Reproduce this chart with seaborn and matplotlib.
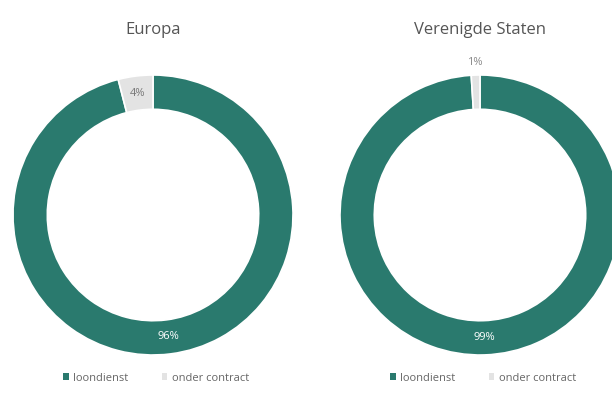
import numpy as np
import matplotlib.pyplot as plt
import seaborn as sns
from matplotlib.patches import Patch

sns.set_theme(style="white")
plt.rcParams['font.family'] = ['Open Sans', 'DejaVu Sans']

regions = ["Europa", "Verenigde Staten"]
categories = ["loondienst", "onder contract"]
europa = [96, 4]
vs = [99, 1]
colors = ["#2a7a6e", "#e3e3e3"]

W, H = 612, 411
fig = plt.figure(figsize=(W / 100, H / 100), dpi=100)

# pixel boxes for each donut: (left, top, size)
boxes = [(13, 75, 280), (340, 75, 280)]
centers_x = [153, 480]

for (left, top, size), name, vals, cx in zip(boxes, regions, [europa, vs], centers_x):
    ax = fig.add_axes([left / W, (H - top - size) / H, size / W, size / H])
    wedges, _ = ax.pie(vals, colors=colors, startangle=90, counterclock=False,
                       radius=1, wedgeprops=dict(width=0.245, edgecolor="white", linewidth=1.2))
    ax.set_xlim(-1, 1)
    ax.set_ylim(-1, 1)
    ax.set_aspect("equal")
    ax.axis("off")
    # labels
    total = sum(vals)
    start = 90
    for v, w in zip(vals, wedges):
        mid = np.deg2rad(start - 360 * v / total / 2)
        start -= 360 * v / total
        if v >= 50:
            r, col = 0.875, "white"
        elif v >= 3:
            r, col = 0.875, "#777777"
        else:
            r, col = 1.09, "#888888"
        ax.text(r * np.cos(mid), r * np.sin(mid), f"{v}%", ha="center", va="center",
                fontsize=8, color=col, clip_on=False)
    fig.text(cx / W, 1 - 30 / H, name, ha="center", va="center", fontsize=12, color="#555555")
    handles = [Patch(facecolor=c, edgecolor="none") for c in colors]
    fig.legend(handles, categories, loc="center", bbox_to_anchor=(cx / W + 0.005, 1 - 378 / H),
               ncol=2, frameon=False, fontsize=8, labelcolor="#666666",
               handlelength=0.5, handleheight=0.5, handletextpad=0.4, columnspacing=3.0)

fig.savefig("out.png", dpi=100, facecolor="white")
